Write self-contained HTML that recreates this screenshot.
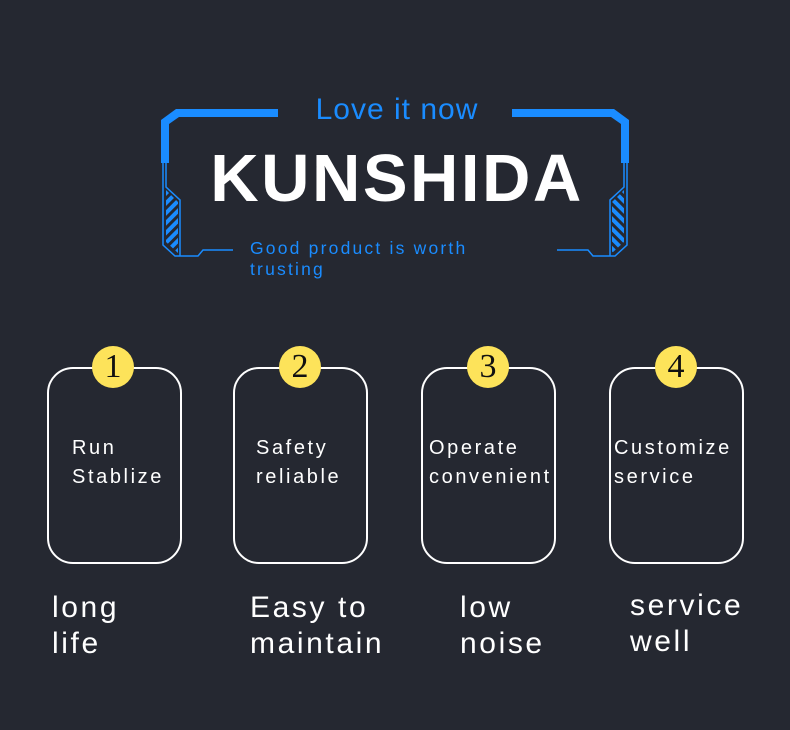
<!DOCTYPE html>
<html><head><style>
body{margin:0;width:790px;height:730px;background:#252831;overflow:hidden;position:relative;font-family:"Liberation Sans","DejaVu Sans",sans-serif}
.t{position:absolute;white-space:nowrap}
.card{position:absolute;top:367px;width:131px;height:193px;border:2px solid #fff;border-radius:26px;box-sizing:content-box}
.num{position:absolute;top:346px;width:42px;height:42px;border-radius:50%;background:#fde35a;color:#111;font-family:"Liberation Serif",serif;font-size:34px;line-height:42px;text-align:center}
.ct{position:absolute;color:#fff;font-size:20px;letter-spacing:2.6px;line-height:29px;top:434px}
.bt{position:absolute;color:#fff;font-size:30px;letter-spacing:2.6px;line-height:36px}
</style></head><body>
<svg width="790" height="730" style="position:absolute;left:0;top:0">
<g fill="#1a8cff" stroke="none">
<polygon points="176,109 278,109 278,117 179,117 169,124 169,163 161,163 161,120"/>
<polygon points="614,109 512,109 512,117 611,117 621,124 621,163 629,163 629,120"/>
</g>
<g fill="none" stroke="#1a8cff" stroke-width="1.5">
<polyline points="163,163 163,245 175,256 198,256 203,250 233,250"/>
<polyline points="166,163 166,187 180,200 180,256"/>
<polyline points="627,163 627,245 615,256 593,256 588,250 557,250"/>
<polyline points="624,163 624,187 610,200 610,256"/>
</g>
<defs><pattern id="h" width="7" height="7" patternUnits="userSpaceOnUse" patternTransform="rotate(-45)"><rect width="7" height="4" fill="#1a8cff"/></pattern>
<pattern id="h2" width="7" height="7" patternUnits="userSpaceOnUse" patternTransform="rotate(45)"><rect width="7" height="4" fill="#1a8cff"/></pattern></defs>
<polygon points="166,190 178,202 178,253 166,242" fill="url(#h)"/>
<polygon points="624,190 612,202 612,253 624,242" fill="url(#h2)"/>
</svg>
<div class="t" style="left:0;width:794px;text-align:center;top:93px;color:#1a8cff;font-size:30px;letter-spacing:1px">Love it now</div>
<div class="t" style="left:0;width:794px;text-align:center;top:140px;color:#fff;font-size:67px;font-weight:bold;letter-spacing:2.5px">KUNSHIDA</div>
<div class="t" style="left:250px;top:238px;color:#1a8cff;font-size:17.5px;letter-spacing:2.2px;line-height:21px">Good product is worth<br>trusting</div>

<div class="card" style="left:47px"></div><div class="num" style="left:92px">1</div>
<div class="card" style="left:233px"></div><div class="num" style="left:279px">2</div>
<div class="card" style="left:421px"></div><div class="num" style="left:467px">3</div>
<div class="card" style="left:609px"></div><div class="num" style="left:655px">4</div>

<div class="ct" style="left:72px">Run<br>Stablize</div>
<div class="ct" style="left:256px">Safety<br>reliable</div>
<div class="ct" style="left:429px">Operate<br>convenient</div>
<div class="ct" style="left:614px">Customize<br>service</div>

<div class="bt" style="left:52px;top:590px">long<br>life</div>
<div class="bt" style="left:250px;top:590px">Easy to<br>maintain</div>
<div class="bt" style="left:460px;top:590px">low<br>noise</div>
<div class="bt" style="left:630px;top:588px">service<br>well</div>
</body></html>
